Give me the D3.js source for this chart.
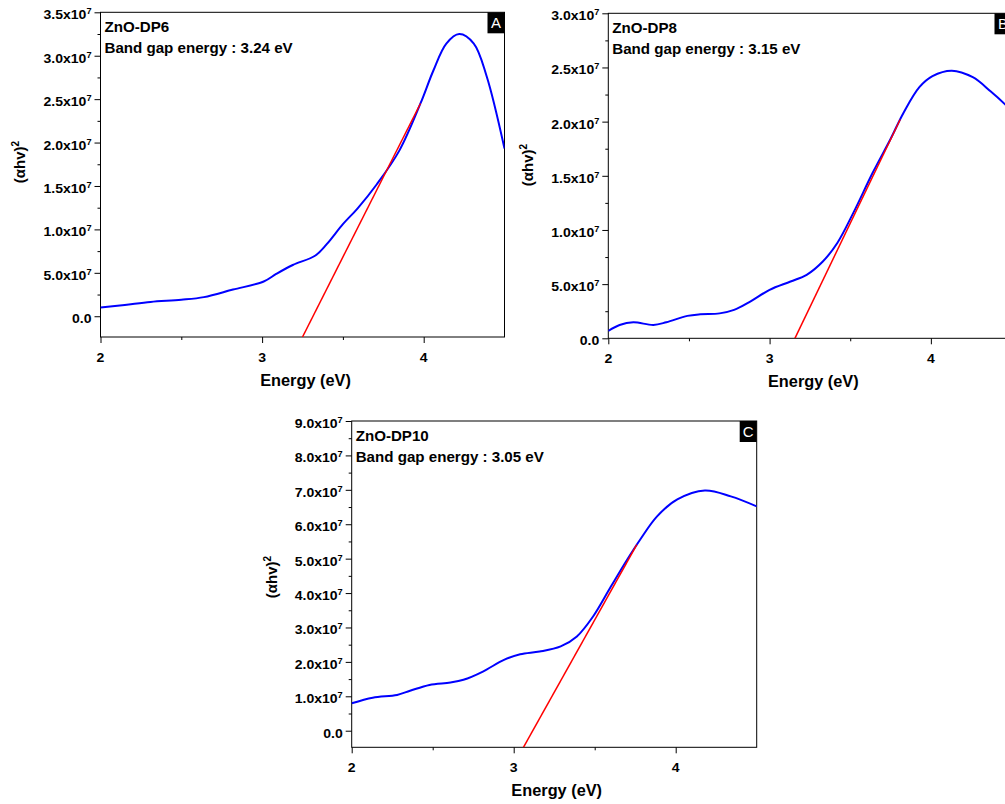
<!DOCTYPE html>
<html><head><meta charset="utf-8">
<script src="https://cdn.jsdelivr.net/npm/d3@7"></script>
<style>body{margin:0;background:#fff}svg{display:block}text{font-family:"Liberation Sans",Arial,sans-serif}</style>
</head><body><svg id="c" width="1005" height="804"></svg>
<script>
// ---------- data ----------
const energyA=[2.00,2.15,2.31,2.50,2.64,2.82,3.01,3.09,3.19,3.33,3.40,3.50,3.59,3.71,3.85,3.98,4.06,4.14,4.22,4.31,4.39,4.50];
const ahvA=[1.0e6,1.3e6,1.65e6,1.9e6,2.2e6,3.07e6,4.0e6,4.9e6,5.9e6,7.0e6,8.3e6,1.06e7,1.24e7,1.52e7,1.91e7,2.45e7,2.83e7,3.14e7,3.25e7,3.14e7,2.76e7,1.93e7];
const energyB=[2.00,2.07,2.155,2.28,2.36,2.49,2.57,2.69,2.78,2.88,3.00,3.13,3.23,3.33,3.42,3.52,3.64,3.75,3.83,3.93,4.01,4.13,4.26,4.37,4.46,4.50];
const ahvB=[6.8e5,1.23e6,1.48e6,1.23e6,1.48e6,2.07e6,2.22e6,2.3e6,2.62e6,3.39e6,4.47e6,5.24e6,5.86e6,7.09e6,8.8e6,1.16e7,1.53e7,1.84e7,2.08e7,2.32e7,2.42e7,2.47e7,2.41e7,2.28e7,2.16e7,2.1e7];
const energyC=[2.00,2.13,2.28,2.36,2.48,2.61,2.69,2.81,2.94,3.04,3.16,3.29,3.39,3.49,3.60,3.70,3.78,3.885,4.01,4.18,4.34,4.50];
const ahvC=[7.98e6,9.6e6,1.04e7,1.16e7,1.33e7,1.40e7,1.48e7,1.72e7,2.06e7,2.22e7,2.30e7,2.45e7,2.74e7,3.32e7,4.19e7,4.97e7,5.55e7,6.23e7,6.72e7,6.98e7,6.81e7,6.52e7];
const fitA_E=[3.25,3.98], fitA_y=[-2.39e6,2.45e7];
const fitB_E=[3.157,3.81], fitB_y=[0,2.02e7];
const fitC_E=[3.06,3.76], fitC_y=[-4.82e6,5.41e7];
const xTicks=[2,3,4], xMinor=[2.5,3.5];
const yTicksA=[0,0.5e7,1.0e7,1.5e7,2.0e7,2.5e7,3.0e7,3.5e7];
const yLabelsA=["0.0","5.0","1.0","1.5","2.0","2.5","3.0","3.5"];
const yTicksB=[0,0.5e7,1.0e7,1.5e7,2.0e7,2.5e7,3.0e7];
const yLabelsB=["0.0","5.0","1.0","1.5","2.0","2.5","3.0"];
const yTicksC=[0,1e7,2e7,3e7,4e7,5e7,6e7,7e7,8e7,9e7];
const yLabelsC=["0.0","1.0","2.0","3.0","4.0","5.0","6.0","7.0","8.0","9.0"];
const names=["ZnO-DP6","ZnO-DP8","ZnO-DP10"];
const gaps=["Band gap energy : 3.24 eV","Band gap energy : 3.15 eV","Band gap energy : 3.05 eV"];
const letters=["A","B","C"];

// ---------- layout ----------
const svg=d3.select("#c");
const panels=[
 {L:100.5,R:504.5,T:12.3,B:337,ymin:-2.39e6,ymax:3.5e7,yStep:0.25e7,E:energyA,V:ahvA,fE:fitA_E,fV:fitA_y,yt:yTicksA,yl:yLabelsA,ytx:20,yty:162},
 {L:608.3,R:1011.5,T:13.3,B:338.3,ymin:0,ymax:3.0e7,yStep:0.25e7,E:energyB,V:ahvB,fE:fitB_E,fV:fitB_y,yt:yTicksB,yl:yLabelsB,ytx:528,yty:165},
 {L:351.7,R:756.7,T:421,B:747.3,ymin:-4.82e6,ymax:9e7,yStep:0.5e7,E:energyC,V:ahvC,fE:fitC_E,fV:fitC_y,yt:yTicksC,yl:yLabelsC,ytx:272,yty:577}
];
const SX=1.08;
function stext(g,x,y,str,size,anchor,weight,fill,sx){
  return g.append("text").attr("transform",`translate(${x},${y}) scale(${sx||SX},1)`)
   .attr("text-anchor",anchor||"start").style("font-size",size+"px")
   .style("font-weight",weight||"bold").attr("fill",fill||"#000").text(str);
}
panels.forEach((p,i)=>{
  const g=svg.append("g");
  const x=d3.scaleLinear().domain([2,4.5]).range([p.L,p.R]);
  const y=d3.scaleLinear().domain([p.ymin,p.ymax]).range([p.B,p.T]);
  const cid="clip"+i;
  svg.append("clipPath").attr("id",cid).append("rect").attr("x",p.L).attr("y",p.T).attr("width",p.R-p.L).attr("height",p.B-p.T);
  g.append("rect").attr("x",p.L).attr("y",p.T).attr("width",p.R-p.L).attr("height",p.B-p.T).attr("fill","none").attr("stroke","#000").attr("stroke-width",1);
  const yMinor=d3.range(0,p.ymax+1,p.yStep).filter(v=>p.yt.indexOf(v)<0 && Math.abs(v%(p.yStep*2))>1);
  g.append("g").attr("transform",`translate(${p.L},0)`).call(d3.axisLeft(y).tickValues(yMinor).tickSize(3).tickSizeOuter(0).tickFormat("")).call(a=>a.select(".domain").remove());
  g.append("g").attr("transform",`translate(${p.L},0)`).call(d3.axisLeft(y).tickValues(p.yt).tickSize(6).tickSizeOuter(0).tickFormat("")).call(a=>a.select(".domain").remove());
  g.append("g").attr("transform",`translate(0,${p.B})`).call(d3.axisBottom(x).tickValues(xMinor).tickSize(3).tickSizeOuter(0).tickFormat("")).call(a=>a.select(".domain").remove());
  g.append("g").attr("transform",`translate(0,${p.B})`).call(d3.axisBottom(x).tickValues(xTicks).tickSize(6).tickSizeOuter(0).tickFormat("")).call(a=>a.select(".domain").remove());
  p.yt.forEach((v,k)=>{
    const t=g.append("text").attr("transform",`translate(${p.L-9},${y(v)+7}) scale(${SX},1)`)
      .attr("text-anchor","end").style("font-size","13px").style("font-weight","bold");
    if(v===0){ t.text(p.yl[k]); }
    else { t.append("tspan").text(p.yl[k]+"x10"); t.append("tspan").attr("dy",-5).style("font-size","8.5px").text("7"); }
  });
  xTicks.forEach(v=>stext(g,x(v),p.B+25,String(v),13,"middle"));
  stext(g,(p.L+p.L+404)/2+3,p.B+49,"Energy (eV)",16,"middle","bold","#000",1.02);
  const yt=g.append("text").attr("transform",`translate(${p.ytx+5},${p.yty}) rotate(-90)`).attr("text-anchor","middle").style("font-size","15px").style("font-weight","bold");
  yt.append("tspan").text("(αhv)"); yt.append("tspan").attr("dy",-6).style("font-size","10px").text("2");
  const pts=p.E.map((e,k)=>[e,p.V[k]]);
  g.append("path").attr("clip-path",`url(#${cid})`).attr("d",d3.line().x(d=>x(d[0])).y(d=>y(d[1])).curve(d3.curveCatmullRom.alpha(0.5))(pts))
    .attr("fill","none").attr("stroke","#0000ff").attr("stroke-width",2);
  const fp=p.fE.map((e,k)=>[e,p.fV[k]]);
  g.append("path").attr("clip-path",`url(#${cid})`).attr("d",d3.line().x(d=>x(d[0])).y(d=>y(d[1]))(fp))
    .attr("fill","none").attr("stroke","#ff0000").attr("stroke-width",1.5);
  stext(g,p.L+4,p.T+19.5,names[i],14,"start");
  stext(g,p.L+4,p.T+41,gaps[i],14,"start");
  g.append("rect").attr("x",p.R-17).attr("y",p.T).attr("width",17).attr("height",21).attr("fill","#000");
  stext(g,p.R-8.5,p.T+16,letters[i],15,"middle","normal","#fff",1.0);
});
</script></body></html>
